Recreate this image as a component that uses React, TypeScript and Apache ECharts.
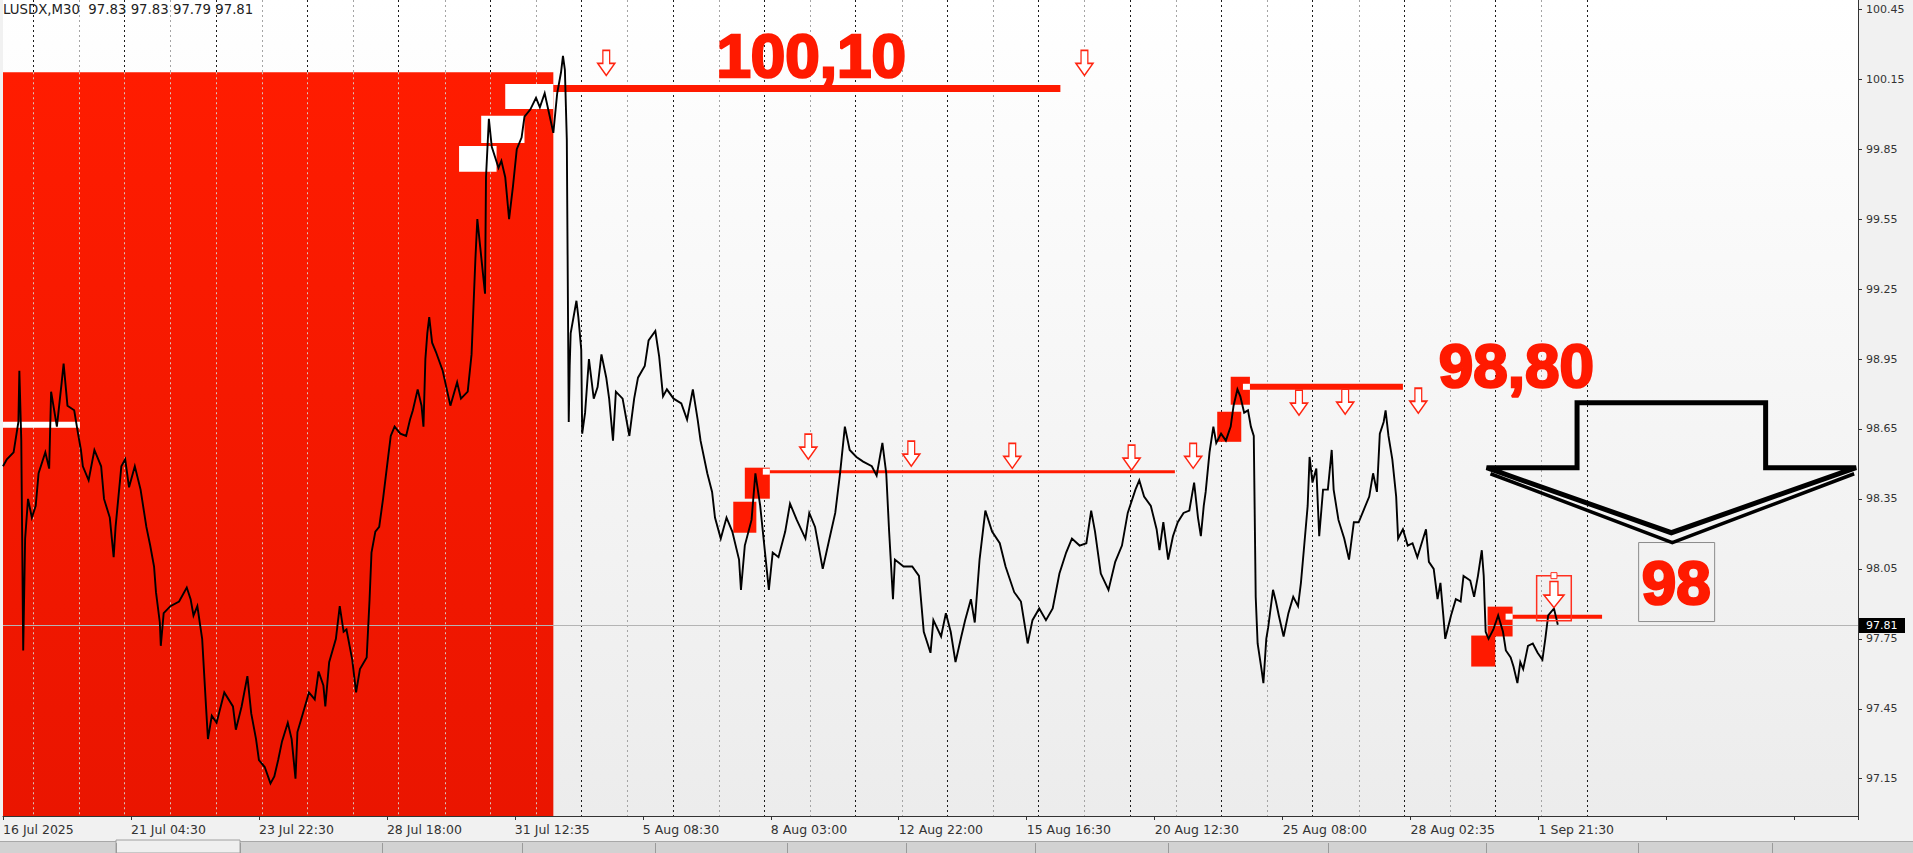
import React, { useEffect, useRef } from 'react';
import * as echarts from 'echarts';

// ---------------- data ----------------
const symbolName = 'LUSDX,M30';
const quoteValues = [97.83, 97.83, 97.79, 97.81];
const lastPrice = 97.81;

const xTickLabels = [
  '16 Jul 2025', '21 Jul 04:30', '23 Jul 22:30', '28 Jul 18:00', '31 Jul 12:35',
  '5 Aug 08:30', '8 Aug 03:00', '12 Aug 22:00', '15 Aug 16:30', '20 Aug 12:30',
  '25 Aug 08:00', '28 Aug 02:35', '1 Sep 21:30',
];
const X_STEP = 133; // bars between time labels
const X_MAX = 1928; // bars visible
const Y_MIN = 96.99;
const Y_MAX = 100.49;
const yTicks = [97.15, 97.45, 97.75, 98.05, 98.35, 98.65, 98.95, 99.25, 99.55, 99.85, 100.15, 100.45];

// price path (bar index, price)
const priceIdx = [
  0, 4, 11, 16, 17, 19, 21, 23, 26, 30, 34, 37, 44, 48, 50, 56, 61, 63, 67, 74,
  78, 81, 83, 89, 95, 102, 105, 111, 115, 117, 123, 127, 131, 137, 143, 149, 153, 157, 159, 163,
  164, 167, 174, 183, 191, 195, 198, 202, 207, 211, 213, 217, 222, 230, 239, 242, 248, 254, 258, 263,
  266, 272, 278, 282, 286, 290, 296, 300, 304, 306, 311, 318, 324, 328, 333, 335, 339, 346, 350, 354,
  357, 363, 367, 371, 378, 381, 383, 387, 391, 395, 400, 403, 407, 413, 419, 423, 426, 431, 435, 437,
  439, 441, 443, 446, 450, 457, 465, 472, 476, 483, 487, 491, 493, 496, 501, 502, 505, 508, 515, 518,
  522, 526, 530, 534, 539, 542, 548, 554, 558, 563, 572, 576, 580, 582, 584, 586, 588, 589, 590, 596,
  598, 601, 602, 605, 609, 614, 618, 622, 627, 630, 634, 637, 644, 651, 656, 660, 667, 671, 678, 682,
  686, 690, 697, 705, 711, 717, 722, 725, 732, 737, 740, 746, 752, 758, 765, 767, 771, 778, 782, 787,
  792, 796, 800, 806, 813, 818, 825, 834, 838, 844, 852, 859, 865, 870, 875, 880, 887, 894, 903, 908,
  914, 918, 921, 925, 927, 936, 945, 952, 957, 964, 967, 975, 980, 985, 990, 996, 1000, 1006, 1010, 1015,
  1021, 1028, 1036, 1042, 1051, 1058, 1065, 1070, 1077, 1084, 1091, 1098, 1105, 1111, 1119, 1126, 1131, 1135, 1141, 1149,
  1156, 1163, 1169, 1177, 1181, 1186, 1193, 1199, 1202, 1206, 1211, 1216, 1221, 1227, 1233, 1238, 1242, 1245, 1248, 1250,
  1254, 1258, 1261, 1266, 1271, 1276, 1279, 1283, 1286, 1290, 1294, 1297, 1300, 1302, 1304, 1308, 1310, 1313, 1315, 1320,
  1323, 1326, 1331, 1336, 1341, 1346, 1349, 1352, 1356, 1358, 1361, 1365, 1368, 1372, 1377, 1381, 1383, 1388, 1394, 1399,
  1404, 1409, 1414, 1420, 1424, 1428, 1431, 1435, 1437, 1440, 1444, 1448, 1450, 1455, 1460, 1465, 1470, 1476, 1479, 1482,
  1487, 1491, 1494, 1497, 1499, 1505, 1510, 1515, 1518, 1525, 1529, 1533, 1537, 1539, 1541, 1544, 1549, 1554, 1559, 1562,
  1567, 1570, 1574, 1577, 1580, 1585, 1590, 1595, 1600, 1603, 1606, 1612, 1616,
];
const priceVal = [
  98.49, 98.52, 98.55, 98.68, 98.90, 98.60, 97.70, 98.18, 98.35, 98.27, 98.32, 98.46, 98.55, 98.48, 98.81, 98.66, 98.85, 98.93, 98.75, 98.73,
  98.63, 98.56, 98.49, 98.43, 98.56, 98.49, 98.35, 98.27, 98.10, 98.23, 98.49, 98.52, 98.40, 98.49, 98.39, 98.23, 98.15, 98.06, 97.95, 97.82,
  97.72, 97.86, 97.89, 97.91, 97.97, 97.92, 97.85, 97.89, 97.75, 97.46, 97.32, 97.42, 97.39, 97.52, 97.46, 97.36, 97.46, 97.59, 97.43, 97.32,
  97.23, 97.20, 97.13, 97.16, 97.23, 97.31, 97.39, 97.32, 97.15, 97.35, 97.42, 97.52, 97.49, 97.61, 97.55, 97.46, 97.65, 97.75, 97.89, 97.78,
  97.79, 97.66, 97.52, 97.62, 97.67, 97.92, 98.12, 98.21, 98.23, 98.35, 98.52, 98.62, 98.66, 98.63, 98.62, 98.69, 98.73, 98.82, 98.75, 98.66,
  98.95, 99.06, 99.13, 99.02, 98.98, 98.90, 98.75, 98.85, 98.78, 98.81, 98.97, 99.38, 99.55, 99.43, 99.23, 99.73, 99.98, 99.86, 99.77, 99.80,
  99.73, 99.55, 99.69, 99.85, 99.90, 99.99, 100.02, 100.07, 100.03, 100.09, 99.92, 100.09, 100.18, 100.25, 100.19, 99.89, 98.68, 98.92, 99.06, 99.20,
  99.13, 98.99, 98.63, 98.72, 98.95, 98.78, 98.83, 98.97, 98.87, 98.78, 98.60, 98.81, 98.78, 98.62, 98.78, 98.87, 98.92, 99.03, 99.07, 98.96,
  98.79, 98.82, 98.78, 98.76, 98.69, 98.82, 98.69, 98.60, 98.46, 98.38, 98.27, 98.18, 98.27, 98.21, 98.09, 97.96, 98.15, 98.26, 98.46, 98.32,
  98.12, 97.96, 98.12, 98.10, 98.21, 98.33, 98.26, 98.18, 98.29, 98.23, 98.05, 98.18, 98.29, 98.46, 98.66, 98.56, 98.53, 98.51, 98.49, 98.45,
  98.59, 98.46, 98.21, 97.92, 98.09, 98.06, 98.06, 98.02, 97.78, 97.69, 97.83, 97.76, 97.86, 97.78, 97.65, 97.76, 97.83, 97.92, 97.82, 98.09,
  98.30, 98.21, 98.16, 98.06, 97.95, 97.91, 97.73, 97.83, 97.88, 97.83, 97.88, 98.03, 98.12, 98.18, 98.15, 98.16, 98.30, 98.21, 98.03, 97.96,
  98.08, 98.15, 98.29, 98.39, 98.43, 98.36, 98.32, 98.22, 98.13, 98.25, 98.09, 98.19, 98.25, 98.29, 98.30, 98.42, 98.27, 98.19, 98.32, 98.38,
  98.55, 98.66, 98.59, 98.63, 98.60, 98.66, 98.75, 98.82, 98.79, 98.72, 98.73, 98.66, 98.62, 97.93, 97.73, 97.62, 97.56, 97.75, 97.80, 97.96,
  97.91, 97.85, 97.76, 97.86, 97.93, 97.89, 97.99, 98.13, 98.32, 98.53, 98.42, 98.48, 98.19, 98.39, 98.39, 98.56, 98.39, 98.26, 98.18, 98.09,
  98.25, 98.25, 98.30, 98.36, 98.46, 98.38, 98.63, 98.68, 98.73, 98.62, 98.52, 98.36, 98.18, 98.22, 98.15, 98.16, 98.10, 98.18, 98.22, 98.08,
  98.05, 97.92, 97.99, 97.85, 97.75, 97.85, 97.92, 97.91, 98.02, 98.00, 97.93, 98.02, 98.13, 98.02, 97.78, 97.75, 97.79, 97.85, 97.78, 97.70,
  97.67, 97.63, 97.56, 97.65, 97.62, 97.72, 97.73, 97.69, 97.66, 97.75, 97.85, 97.88, 97.81,
];

// day separators (bar index)
const daySeps = [
  31, 79, 126, 174, 221, 269, 316, 364, 411, 459, 506, 554, 601, 649, 696, 744, 791, 839,
  886, 934, 981, 1029, 1076, 1124, 1171, 1219, 1266, 1314, 1361, 1409, 1456, 1504, 1551, 1599, 1646,
];

// drawn objects: [fromIdx, toIdx, lowPrice, highPrice]
const redZone = [0, 572, Y_MIN, 100.18];
const whiteBoxes = [
  [474, 513, 99.753, 99.864],
  [497, 542, 99.877, 99.993],
  [522, 572, 100.023, 100.13],
  [0, 80, 98.655, 98.681],
];
const redSquares = [
  [771, 797, 98.351, 98.484],
  [759, 783, 98.205, 98.338],
  [1276, 1296, 98.754, 98.874],
  [1262, 1287, 98.595, 98.724],
  [1543, 1569, 97.76, 97.888],
  [1526, 1551, 97.631, 97.764],
];
const levelFrom = [572, 797, 1296, 1569];
const levelTo = [1099, 1218, 1455, 1662];
const levelPrice = [100.11, 98.467, 98.831, 97.845];

const arrowIdx = [627, 1124, 837, 944, 1049, 1173, 1237, 1347, 1395, 1471];
const arrowPrice = [100.22, 100.22, 98.574, 98.544, 98.535, 98.527, 98.535, 98.763, 98.767, 98.771];
const selectedArrow = [1612, 97.94];
const selectionBox = [1594, 1630, 97.828, 98.021];

const labelText = ['100,10', '98,80', '98'];
const labelIdx = [840, 1573, 1739];
const labelPrice = [100.254, 98.921, 97.991];
const targetBox = [1700, 1779, 97.824, 98.163];

const bigArrowIdx = [1542, 1636, 1636, 1832, 1832, 1926, 1734];
const bigArrowPrice = [98.484, 98.484, 98.763, 98.763, 98.484, 98.484, 98.205];
const lowerVIdx = [1546, 1735, 1924];
const lowerVPrice = [98.458, 98.163, 98.458];

// ---------------- styles / layout ----------------
const RED = '#ff1a00';
const levelWidths = [7, 3, 6, 4];
const tabDividers = [116, 240, 382, 522, 655, 787, 906, 1035, 1168, 1328, 1486, 1638, 1772];

const rectRender = (fill: any, stroke?: string) => (params: any, api: any) => {
  const a = api.coord([api.value(0), api.value(3)]);
  const b = api.coord([api.value(1), api.value(2)]);
  return {
    type: 'rect',
    shape: { x: a[0], y: a[1], width: b[0] - a[0], height: b[1] - a[1] },
    style: stroke ? { fill: 'transparent', stroke, lineWidth: 1 } : { fill },
  };
};

export default function App() {
  const ref = useRef<HTMLDivElement>(null);

  useEffect(() => {
    const chart = echarts.init(ref.current as HTMLDivElement, null, { renderer: 'svg' });

    const redGrad = new echarts.graphic.LinearGradient(0, 0, 0, 1, [
      { offset: 0, color: '#ff1c00' },
      { offset: 1, color: '#ea1500' },
    ]);
    const gridGrad = new echarts.graphic.LinearGradient(0, 0, 0, 1, [
      { offset: 0, color: '#ffffff' },
      { offset: 1, color: '#ececec' },
    ]);

    const tabGraphics: any[] = [
      { type: 'rect', shape: { x: 0, y: 841, width: 1913, height: 12 }, style: { fill: '#d2d2d2' }, silent: true },
      { type: 'line', shape: { x1: 0, y1: 841.5, x2: 1913, y2: 841.5 }, style: { stroke: '#a8a8a8', lineWidth: 1 }, silent: true },
      { type: 'rect', shape: { x: tabDividers[0], y: 840, width: tabDividers[1] - tabDividers[0], height: 13 }, style: { fill: '#efefef', stroke: '#a0a0a0', lineWidth: 1 }, silent: true },
      ...tabDividers.map((x) => ({
        type: 'line',
        shape: { x1: x + 0.5, y1: 843, x2: x + 0.5, y2: 853 },
        style: { stroke: '#9a9a9a', lineWidth: 1 },
        silent: true,
      })),
    ];

    const option: any = {
      animation: false,
      backgroundColor: '#f1f1f1',
      title: {
        text: `${symbolName}  ${quoteValues.map((v) => v.toFixed(2)).join(' ')}`,
        left: 3,
        top: 3,
        padding: 0,
        textStyle: { fontSize: 13.3, fontWeight: 'normal', color: '#222', fontFamily: 'DejaVu Sans' },
        z: 20,
      },
      grid: { left: 0, top: 0, right: 55, bottom: 37, show: true, borderWidth: 0, backgroundColor: gridGrad },
      xAxis: {
        type: 'value',
        min: 0,
        max: X_MAX,
        interval: X_STEP,
        axisLine: { show: true, onZero: false, lineStyle: { color: '#333', width: 1 } },
        axisTick: { show: true, length: 4, lineStyle: { color: '#333' } },
        axisLabel: {
          align: 'left',
          margin: 7,
          fontSize: 12.5,
          color: '#333',
          fontFamily: 'DejaVu Sans',
          formatter: (v: number) => {
            const i = Math.round(v / X_STEP);
            return Math.abs(v - i * X_STEP) < 0.5 && xTickLabels[i] ? xTickLabels[i] : '';
          },
        },
        splitLine: { show: false },
      },
      yAxis: {
        type: 'value',
        position: 'right',
        min: Y_MIN,
        max: Y_MAX,
        axisLine: { show: true, onZero: false, lineStyle: { color: '#333', width: 1 } },
        axisTick: { show: true, length: 4, customValues: yTicks, lineStyle: { color: '#333' } },
        axisLabel: {
          customValues: yTicks,
          margin: 8,
          fontSize: 11,
          color: '#333',
          fontFamily: 'DejaVu Sans',
          formatter: (v: number) => v.toFixed(2),
        },
        splitLine: { show: false },
      },
      graphic: tabGraphics,
      series: [
        {
          name: 'daySeparators',
          type: 'custom',
          z: 1,
          silent: true,
          data: daySeps.map((x) => [x, Y_MIN]),
          renderItem: (params: any, api: any) => {
            const cs = params.coordSys;
            const x = Math.round(api.coord([api.value(0), Y_MIN])[0]) + 0.5;
            return {
              type: 'line',
              shape: { x1: x, y1: cs.y, x2: x, y2: cs.y + cs.height },
              style: { stroke: params.dataIndex % 2 === 0 ? '#1a1a1a' : '#a4a4a4', lineWidth: 1, lineDash: [2, 3] },
            };
          },
        },
        {
          name: 'redZone',
          type: 'custom',
          z: 2,
          silent: true,
          data: [redZone],
          renderItem: rectRender(redGrad),
        },
        {
          name: 'separatorsOnRed',
          type: 'custom',
          z: 3,
          silent: true,
          data: daySeps.filter((x) => x < redZone[1]).map((x) => [x, redZone[3]]),
          renderItem: (params: any, api: any) => {
            const cs = params.coordSys;
            const p = api.coord([api.value(0), api.value(1)]);
            const x = Math.round(p[0]) + 0.5;
            return {
              type: 'line',
              shape: { x1: x, y1: p[1], x2: x, y2: cs.y + cs.height },
              style: { stroke: '#d8c4bc', lineWidth: 1, lineDash: [2, 3] },
            };
          },
        },
        {
          name: 'whiteBoxes',
          type: 'custom',
          z: 4,
          silent: true,
          data: whiteBoxes,
          renderItem: rectRender('#ffffff'),
        },
        {
          name: 'redSquares',
          type: 'custom',
          z: 4,
          silent: true,
          data: redSquares,
          renderItem: rectRender(RED),
        },
        {
          name: 'levels',
          type: 'custom',
          z: 5,
          silent: true,
          data: levelFrom.map((x, i) => [x, levelTo[i], levelPrice[i]]),
          renderItem: (params: any, api: any) => {
            const a = api.coord([api.value(0), api.value(2)]);
            const b = api.coord([api.value(1), api.value(2)]);
            return {
              type: 'line',
              shape: { x1: a[0], y1: a[1], x2: b[0], y2: b[1] },
              style: { stroke: RED, lineWidth: levelWidths[params.dataIndex] },
            };
          },
        },
        {
          name: 'anchors',
          type: 'custom',
          z: 5,
          silent: true,
          data: levelFrom.slice(1).map((x, i) => [x, levelPrice[i + 1]]),
          renderItem: (params: any, api: any) => {
            const p = api.coord([api.value(0), api.value(1)]);
            return {
              type: 'rect',
              shape: { x: p[0] - 7, y: p[1] - 3, width: 7, height: 6 },
              style: { fill: '#ffffff' },
            };
          },
        },
        {
          name: 'lastPrice',
          type: 'custom',
          z: 5,
          silent: true,
          data: [[X_MAX, lastPrice]],
          renderItem: (params: any, api: any) => {
            const cs = params.coordSys;
            const y = Math.round(api.coord([0, api.value(1)])[1]) + 0.5;
            const right = cs.x + cs.width;
            return {
              type: 'group',
              children: [
                { type: 'line', shape: { x1: cs.x, y1: y, x2: right, y2: y }, style: { stroke: '#b4b4b4', lineWidth: 1 } },
                { type: 'rect', shape: { x: right + 1, y: y - 7.5, width: 46, height: 15 }, style: { fill: '#000' } },
                {
                  type: 'text',
                  x: right + 8,
                  y: y,
                  style: {
                    text: lastPrice.toFixed(2),
                    fill: '#fff',
                    fontSize: 11,
                    fontFamily: 'DejaVu Sans',
                    align: 'left',
                    verticalAlign: 'middle',
                  },
                },
              ],
            };
          },
        },
        {
          name: 'price',
          type: 'line',
          z: 6,
          silent: true,
          showSymbol: false,
          symbol: 'none',
          data: priceIdx.map((x, i) => [x, priceVal[i]]),
          lineStyle: { color: '#000', width: 1.9, join: 'miter' },
        },
        {
          name: 'sellArrows',
          type: 'scatter',
          z: 7,
          silent: true,
          symbol: 'path://M30,0 L70,0 L70,52 L100,52 L50,100 L0,52 L30,52 Z',
          symbolSize: [17, 25],
          itemStyle: { color: '#ffffff', borderColor: '#ff2410', borderWidth: 1.5, opacity: 1 },
          data: [
            ...arrowIdx.map((x, i) => [x, arrowPrice[i]]),
            { value: selectedArrow, symbolSize: [20, 26] },
          ],
        },
        {
          name: 'selection',
          type: 'custom',
          z: 7,
          silent: true,
          data: [selectionBox],
          renderItem: (params: any, api: any) => {
            const a = api.coord([api.value(0), api.value(3)]);
            const b = api.coord([api.value(1), api.value(2)]);
            const cx = (a[0] + b[0]) / 2;
            return {
              type: 'group',
              children: [
                { type: 'rect', shape: { x: a[0], y: a[1], width: b[0] - a[0], height: b[1] - a[1] }, style: { fill: 'transparent', stroke: '#ff3020', lineWidth: 1.5 } },
                { type: 'rect', shape: { x: cx - 3, y: a[1] - 3, width: 6, height: 6 }, style: { fill: '#fff', stroke: '#ff3020', lineWidth: 1 } },
              ],
            };
          },
        },
        {
          name: 'targetBox',
          type: 'custom',
          z: 8,
          silent: true,
          data: [targetBox],
          renderItem: rectRender('transparent', '#8c8c8c'),
        },
        {
          name: 'labels',
          type: 'custom',
          z: 8,
          silent: true,
          data: labelIdx.map((x, i) => [x, labelPrice[i]]),
          renderItem: (params: any, api: any) => {
            const p = api.coord([api.value(0), api.value(1)]);
            return {
              type: 'text',
              x: p[0],
              y: p[1],
              style: {
                text: labelText[params.dataIndex],
                fill: RED,
                stroke: RED,
                lineWidth: 2.5,
                fontSize: 62,
                fontWeight: 'bold',
                fontFamily: '"Liberation Sans", Arial, sans-serif',
                align: 'center',
                verticalAlign: 'middle',
              },
            };
          },
        },
        {
          name: 'bigArrow',
          type: 'custom',
          z: 9,
          silent: true,
          data: [[bigArrowIdx[0], bigArrowPrice[0]]],
          renderItem: (params: any, api: any) => {
            const pts = bigArrowIdx.map((x, i) => api.coord([x, bigArrowPrice[i]]));
            const low = lowerVIdx.map((x, i) => api.coord([x, lowerVPrice[i]]));
            return {
              type: 'group',
              children: [
                { type: 'polygon', shape: { points: pts }, style: { fill: 'transparent', stroke: '#000', lineWidth: 5, lineJoin: 'miter' } },
                { type: 'polyline', shape: { points: low }, style: { fill: 'transparent', stroke: '#000', lineWidth: 3.5, lineJoin: 'miter' } },
              ],
            };
          },
        },
      ],
    };

    chart.setOption(option);
    return () => chart.dispose();
  }, []);

  return <div ref={ref} style={{ position: 'absolute', left: 0, top: 0, width: 1913, height: 853 }} />;
}
